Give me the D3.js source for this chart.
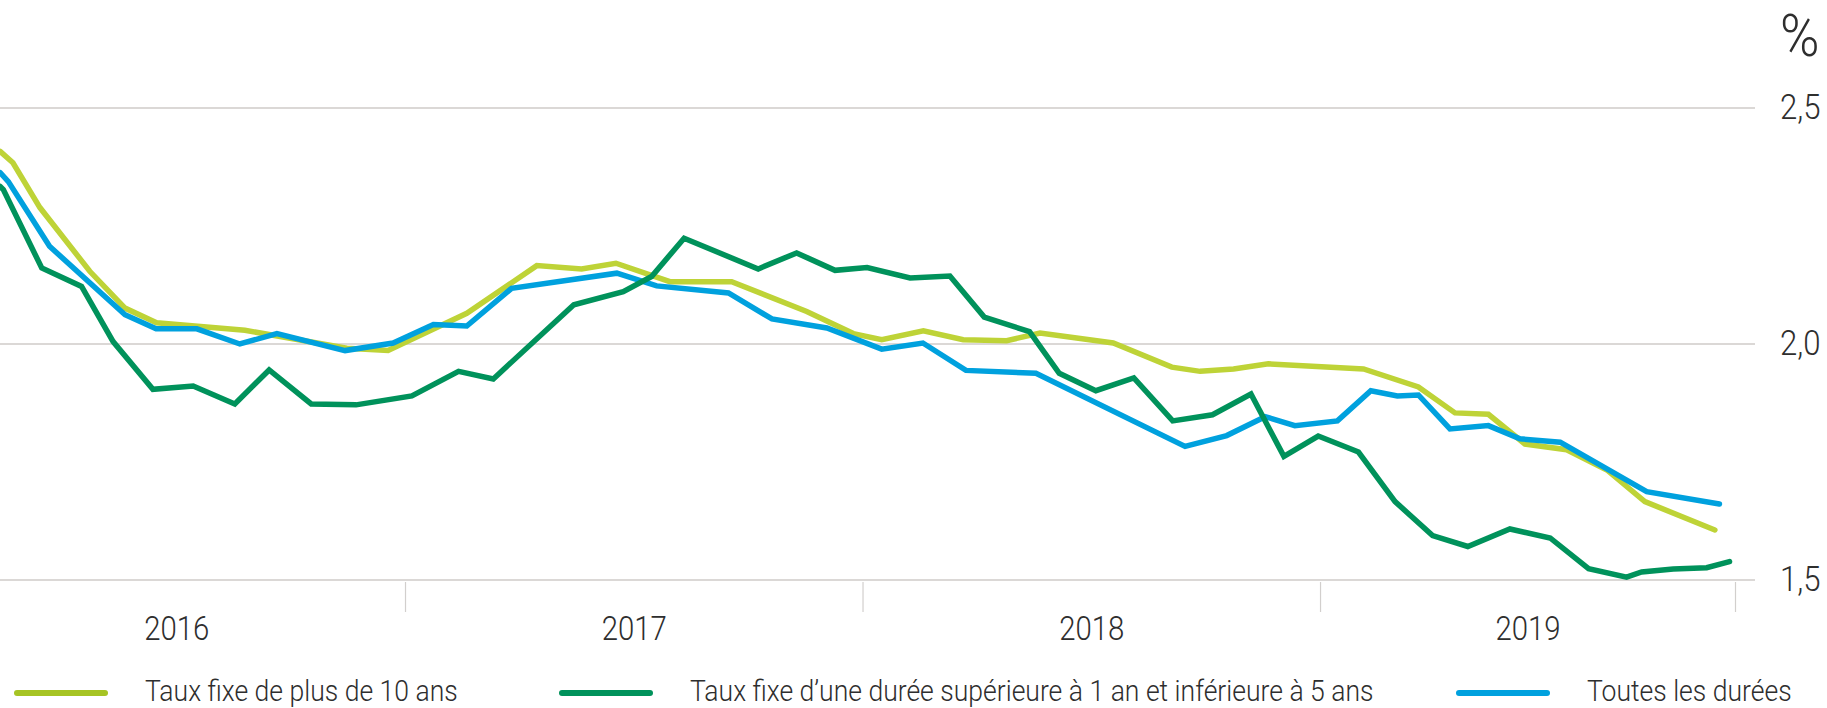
<!DOCTYPE html>
<html lang="fr">
<head>
<meta charset="utf-8">
<script src="https://cdn.jsdelivr.net/npm/d3@7.9.0/dist/d3.min.js"></script>
<style>
  html, body { margin: 0; padding: 0; background: #fff; }
  svg { display: block; font-family: Roboto, "DejaVu Sans Condensed", sans-serif; font-weight: 300; }
</style>
</head>
<body>
<svg id="chart" width="1827" height="708"></svg>
<script>
// dates en années décimales, taux en %
const tJaune = [2016.115, 2016.143, 2016.202, 2016.311, 2016.388, 2016.457, 2016.650, 2016.873, 2016.963, 2017.135, 2017.288, 2017.386, 2017.461, 2017.579, 2017.714, 2017.878, 2017.980, 2018.042, 2018.133, 2018.220, 2018.315, 2018.388, 2018.548, 2018.676, 2018.738, 2018.811, 2018.887, 2019.095, 2019.215, 2019.295, 2019.368, 2019.448, 2019.539, 2019.627, 2019.710, 2019.863];
const vJaune = [2.407, 2.383, 2.288, 2.153, 2.075, 2.044, 2.028, 1.990, 1.985, 2.064, 2.165, 2.158, 2.170, 2.131, 2.131, 2.068, 2.021, 2.008, 2.027, 2.008, 2.006, 2.022, 2.001, 1.950, 1.941, 1.946, 1.957, 1.946, 1.908, 1.853, 1.850, 1.787, 1.775, 1.732, 1.665, 1.605];

const tBleu = [2016.115, 2016.133, 2016.223, 2016.388, 2016.456, 2016.545, 2016.639, 2016.720, 2016.869, 2016.974, 2017.062, 2017.135, 2017.233, 2017.463, 2017.550, 2017.707, 2017.802, 2017.922, 2018.042, 2018.132, 2018.226, 2018.379, 2018.705, 2018.796, 2018.880, 2018.945, 2019.038, 2019.111, 2019.169, 2019.215, 2019.284, 2019.368, 2019.437, 2019.525, 2019.714, 2019.873];
const vBleu = [2.362, 2.343, 2.206, 2.061, 2.031, 2.031, 1.999, 2.021, 1.985, 2.001, 2.040, 2.037, 2.117, 2.149, 2.122, 2.107, 2.052, 2.033, 1.988, 2.001, 1.943, 1.937, 1.782, 1.805, 1.845, 1.826, 1.836, 1.900, 1.889, 1.891, 1.819, 1.826, 1.798, 1.791, 1.686, 1.660];

const tVert = [2016.115, 2016.122, 2016.206, 2016.293, 2016.362, 2016.449, 2016.537, 2016.628, 2016.703, 2016.795, 2016.893, 2017.015, 2017.117, 2017.193, 2017.369, 2017.477, 2017.539, 2017.610, 2017.772, 2017.856, 2017.940, 2018.010, 2018.104, 2018.191, 2018.266, 2018.365, 2018.430, 2018.510, 2018.593, 2018.678, 2018.765, 2018.849, 2018.921, 2018.996, 2019.084, 2019.164, 2019.246, 2019.323, 2019.415, 2019.503, 2019.587, 2019.670, 2019.703, 2019.772, 2019.845, 2019.895];
const vVert = [2.333, 2.326, 2.160, 2.121, 2.004, 1.903, 1.910, 1.872, 1.944, 1.872, 1.870, 1.889, 1.941, 1.925, 2.082, 2.110, 2.142, 2.223, 2.158, 2.192, 2.155, 2.161, 2.139, 2.143, 2.056, 2.025, 1.937, 1.900, 1.927, 1.836, 1.849, 1.893, 1.761, 1.804, 1.770, 1.665, 1.593, 1.570, 1.607, 1.588, 1.523, 1.505, 1.516, 1.522, 1.525, 1.538];

const yearStarts = [2016, 2017, 2018, 2019, 2019.907];
const yearLabels = ['2016', '2017', '2018', '2019'];
const yTicks = [1.5, 2.0, 2.5];

const seriesNames = ['Taux fixe de plus de 10 ans', 'Taux fixe d\u2019une durée supérieure à 1 an et inférieure à 5 ans', 'Toutes les durées'];
const seriesColors = ['#bed337', '#00925b', '#00a1de'];
const legendColors = ['#a6c424', '#00925b', '#00a1de'];

// police condensée : on resserre un peu horizontalement
const squeeze = 0.915;
const textColor = '#2e2e2e';

const svg = d3.select('#chart');
const x = d3.scaleLinear().domain([2016, 2019.907]).range([-52.5, 1735]);
const y = d3.scaleLinear().domain([1.5, 2.5]).range([579.5, 107.5]);
const fr = d3.formatLocale({ decimal: ',', thousands: ' ', grouping: [3], currency: ['', ' €'] });

function addText(px, py, size, str) {
    return svg.append('text')
        .attr('transform', `translate(${px},${py}) scale(${squeeze},1)`)
        .attr('font-size', size)
        .attr('fill', textColor)
        .text(str);
}

// axe des taux + grille
let yAxis = svg.append('g')
    .attr('transform', 'translate(1755,0)')
    .call(d3.axisRight(y).tickValues(yTicks).tickSize(-1755).tickPadding(0).tickFormat(fr.format('.1f')));
yAxis.attr('font-family', null).attr('font-size', null);
yAxis.select('.domain').remove();
yAxis.selectAll('line').attr('stroke', '#cfcbc9').attr('stroke-width', 1.5);
yAxis.selectAll('text')
    .attr('x', null)
    .attr('transform', `translate(25,0) scale(0.89,1)`)
    .attr('font-size', 35).attr('fill', textColor);

svg.append('text')
    .attr('transform', 'translate(1780,56) scale(0.89,1)')
    .attr('font-size', 60).attr('fill', textColor)
    .text('%');

// séparateurs d'années
let sep = svg.append('g')
    .attr('transform', 'translate(0,582)')
    .call(d3.axisBottom(x).tickValues(yearStarts.slice(1)).tickSize(30).tickFormat(''));
sep.select('.domain').remove();
sep.selectAll('line').attr('stroke', '#d2cfcd').attr('stroke-width', 1.2);

// libellés d'années au milieu de chaque bande
let mids = yearLabels.map((_, i) => (yearStarts[i] + yearStarts[i + 1]) / 2);
let lab = svg.append('g')
    .attr('transform', 'translate(0,582)')
    .call(d3.axisBottom(x).tickValues(mids).tickSize(0).tickPadding(0).tickFormat((d, i) => yearLabels[i]));
lab.attr('font-family', null).attr('font-size', null);
lab.select('.domain').remove();
lab.selectAll('text')
    .attr('y', null).attr('dy', null)
    .attr('transform', `translate(0,58) scale(0.89,1)`)
    .attr('font-size', 33).attr('fill', textColor);

// courbes
const line = d3.line().x(d => x(d.t)).y(d => y(d.v));
const series = [
    tJaune.map((t, i) => ({ t, v: vJaune[i] })),
    tVert.map((t, i) => ({ t, v: vVert[i] })),
    tBleu.map((t, i) => ({ t, v: vBleu[i] }))
];
[0, 2, 1].forEach(k => {
    svg.append('path')
        .attr('d', line(series[k]))
        .attr('fill', 'none')
        .attr('stroke', seriesColors[k])
        .attr('stroke-width', 5.5)
        .attr('stroke-linecap', 'round')
        .attr('stroke-linejoin', 'miter');
});

// légende
const legendX = [14, 559, 1456];
seriesNames.forEach((name, i) => {
    svg.append('line')
        .attr('x1', legendX[i] + 3).attr('x2', legendX[i] + 91)
        .attr('y1', 693).attr('y2', 693)
        .attr('stroke', legendColors[i])
        .attr('stroke-width', 6)
        .attr('stroke-linecap', 'round');
    addText(legendX[i] + 131, 701, 29, name);
});
</script>
</body>
</html>
